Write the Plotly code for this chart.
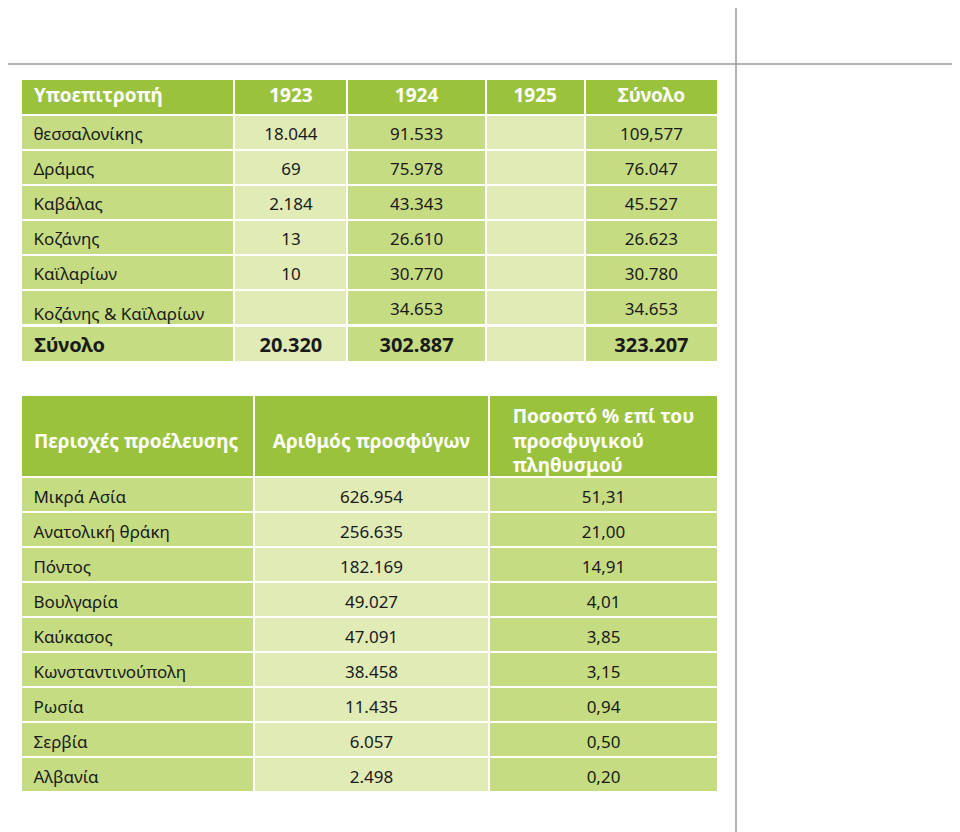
import plotly.graph_objects as go

# top table: refugees per sub-committee
top_header = ["Υποεπιτροπή", "1923", "1924", "1925", "Σύνολο"]
sub_names = ["θεσσαλονίκης", "Δράμας", "Καβάλας", "Κοζάνης", "Καϊλαρίων",
             "Κοζάνης & Καϊλαρίων"]
y1923 = ["18.044", "69", "2.184", "13", "10", ""]
y1924 = ["91.533", "75.978", "43.343", "26.610", "30.770", "34.653"]
y1925 = ["", "", "", "", "", ""]
totals = ["109,577", "76.047", "45.527", "26.623", "30.780", "34.653"]
total_row = ["Σύνολο", "20.320", "302.887", "", "323.207"]

# bottom table: regions of origin
bottom_header = ["Περιοχές προέλευσης", "Αριθμός προσφύγων",
                 "Ποσοστό % επί του<br>προσφυγικού<br>πληθυσμού"]
regions = ["Μικρά Ασία", "Ανατολική θράκη", "Πόντος", "Βουλγαρία", "Καύκασος",
           "Κωνσταντινούπολη", "Ρωσία", "Σερβία", "Αλβανία"]
refugees = ["626.954", "256.635", "182.169", "49.027", "47.091",
            "38.458", "11.435", "6.057", "2.498"]
percents = ["51,31", "21,00", "14,91", "4,01", "3,85", "3,15", "0,94", "0,50", "0,20"]

HEAD = "#9bc23d"
MED = "#c6dc83"
LIGHT = "#e0ebb6"
CLEAR = "rgba(0,0,0,0)"
FONT = "Noto Sans"
TXT = "#1a1a1a"
NB = "\u00a0"

# the page body has an 8px margin, so the figure is drawn 8px smaller
OFF = 8
W, H = 960 - OFF, 832 - OFF


def px_x(x):
    return (x - OFF) / W


def px_y(y):
    return 1 - (y - OFF) / H


def label(s):
    # non-breaking spaces keep the table from re-wrapping the names
    return NB + s.replace(" ", NB)


top_widths = [213, 113, 138, 99, 133]
top_align = ["left", "center", "center", "center", "center"]
top_fill = [MED, LIGHT, MED, LIGHT, MED]
bot_widths = [233, 235, 229]
bot_align = ["left", "center", "center"]
bot_fill = [MED, LIGHT, MED]
white_line = dict(color="white", width=2)
no_line = dict(color=CLEAR, width=0)
x_dom = [px_x(21), px_x(718)]

fig = go.Figure()


def add_table(top, widths, align, head, cells, head_fill, cell_fill, head_font, cell_font,
              head_h, cell_h, head_dy=0, cell_dy=0):
    # coloured blocks first, then the texts on a clear layer nudged down so
    # they sit in the middle of each row
    ncol = len(widths)
    fig.add_trace(go.Table(
        domain=dict(x=x_dom, y=[0, px_y(top)]),
        columnwidth=widths,
        header=dict(values=[""] * ncol, fill_color=head_fill, line=white_line, height=head_h),
        cells=dict(values=[[""] * len(c) for c in cells], fill_color=cell_fill,
                   line=white_line, height=cell_h),
    ))
    fig.add_trace(go.Table(
        domain=dict(x=x_dom, y=[0, px_y(top + head_dy)]),
        columnwidth=widths,
        header=dict(values=head, fill_color=CLEAR, line=no_line, align=align,
                    font=head_font, height=head_h + cell_dy - head_dy),
        cells=dict(values=cells, fill_color=CLEAR, line=no_line, align=align,
                   font=cell_font, height=cell_h),
    ))


head_font = dict(family=FONT, size=19, color="white", weight="bold")
body_font = dict(family=FONT, size=17, color=TXT)

add_table(79, top_widths, top_align,
          [NB + h if i == 0 else h for i, h in enumerate(top_header)],
          [[label(s) for s in sub_names], y1923, y1924, y1925, totals],
          HEAD, top_fill, head_font, body_font, 36, 35, head_dy=1, cell_dy=4)

# total row, bold and larger
add_table(326, top_widths, top_align,
          [NB + v if i == 0 else v for i, v in enumerate(total_row)],
          [[] for _ in total_row],
          top_fill, top_fill, dict(family=FONT, size=20, color=TXT, weight="bold"),
          body_font, 36, 35, head_dy=3, cell_dy=3)

# bottom header on its own, so its three-line cell cannot push the rows down
add_table(395, bot_widths, bot_align,
          [NB + "<br>" + NB + bottom_header[0], NB + "<br>" + bottom_header[1],
           bottom_header[2]],
          [[] for _ in bottom_header],
          HEAD, bot_fill, head_font, body_font, 82, 35)

add_table(477, bot_widths, bot_align,
          [label(regions[0]), refugees[0], percents[0]],
          [[label(r) for r in regions[1:]], refugees[1:], percents[1:]],
          bot_fill, bot_fill, body_font, body_font, 35, 35, head_dy=5, cell_dy=5)

# thin grey page rules
fig.add_shape(type="line", xref="paper", yref="paper", x0=0, x1=1,
              y0=px_y(64), y1=px_y(64), line=dict(color="#9a9a9a", width=1.5))
fig.add_shape(type="line", xref="paper", yref="paper", x0=px_x(736), x1=px_x(736),
              y0=0, y1=1, line=dict(color="#9a9a9a", width=1.5))

fig.update_layout(
    width=W, height=H,
    margin=dict(l=0, r=0, t=0, b=0),
    paper_bgcolor="white",
    plot_bgcolor="white",
)

fig.write_html("out.html")
